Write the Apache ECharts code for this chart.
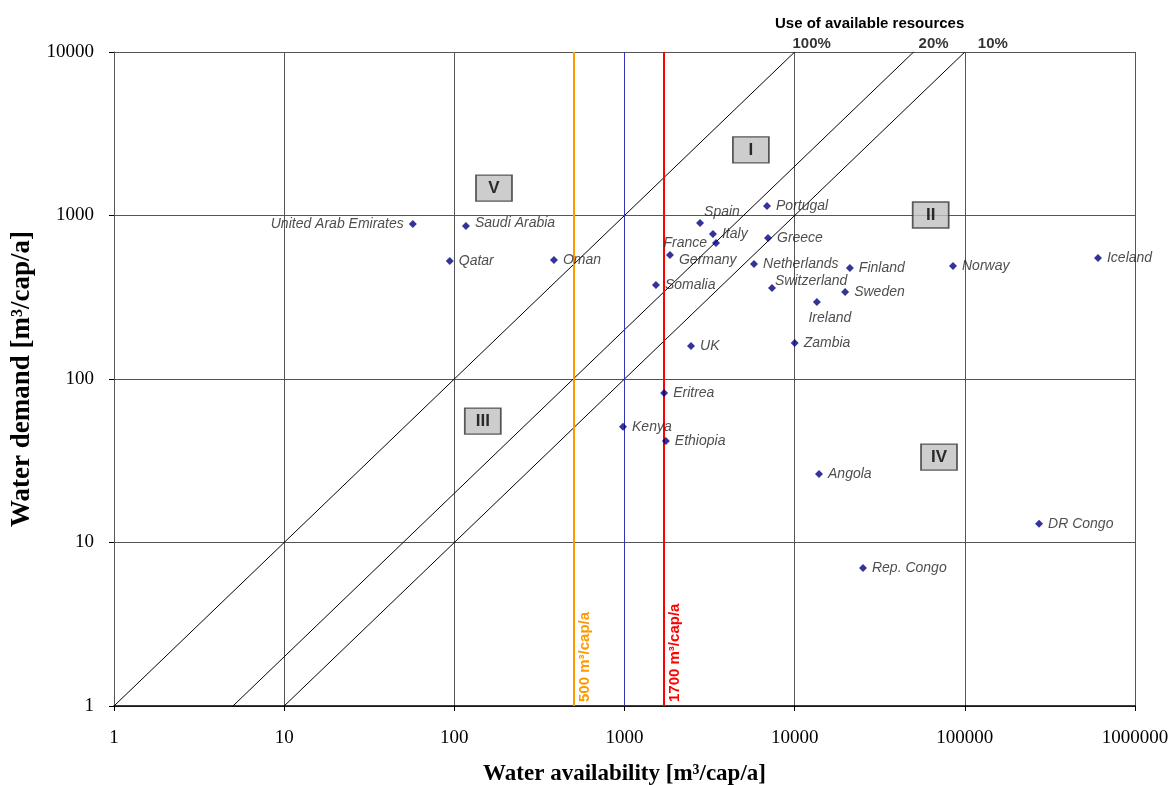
<!DOCTYPE html>
<html>
<head>
<meta charset="utf-8">
<script src="https://cdn.jsdelivr.net/npm/echarts@6/dist/echarts.min.js"></script>
<style>
html, body { margin: 0; padding: 0; background: #fff; }
#chart { width: 1172px; height: 785px; }
</style>
</head>
<body>
<div id="chart"></div>
<script>
// country values
var countries = ['United Arab Emirates', 'Saudi Arabia', 'Qatar', 'Oman', 'Spain', 'Portugal', 'Italy', 'France',
	'Germany', 'Greece', 'Netherlands', 'Switzerland', 'Somalia', 'Finland', 'Sweden', 'Ireland', 'Norway',
	'Iceland', 'UK', 'Zambia', 'Eritrea', 'Kenya', 'Ethiopia', 'Angola', 'DR Congo', 'Rep. Congo'];
var availability = [57, 117, 94, 385, 2780, 6880, 3310, 3450,
	1850, 6970, 5770, 7360, 1530, 21100, 19800, 13500, 85200,
	606000, 2460, 10000, 1710, 980, 1750, 13900, 273000, 25200];
var demand = [887, 863, 527, 534, 900, 1143, 771, 679,
	573, 728, 505, 360, 376, 477, 341, 296, 491,
	550, 159, 166, 82, 51, 41.8, 26.2, 13.0, 6.98];

// use of available resources (demand = share * availability)
var shares = [1, 0.2, 0.1];
var shareLabels = ['100%', '20%', '10%'];

// thresholds on availability
var thresholds = [500, 1000, 1700];
var thresholdLabels = ['500 m³/cap/a', '', '1700 m³/cap/a'];

// zone markers
var zones = ['I', 'II', 'III', 'IV', 'V'];
var zoneX = [5530, 63000, 147, 70500, 171];
var zoneY = [2520, 1007, 55.3, 33.3, 1470];

var xMin = 1, xMax = 1000000, yMin = 1, yMax = 10000;

var labelPlace = {
	'United Arab Emirates': { position: 'left' },
	'France': { position: 'left' },
	'Spain': { offset: [-5, -11] },
	'Switzerland': { offset: [-6, -7] },
	'Germany': { offset: [0, 5] },
	'Saudi Arabia': { offset: [0, -3] },
	'Ireland': { position: 'bottom', offset: [13, 0] }
};
var shareLabelOffsets = [[17, 0], [20, 0], [28, 0]];
var thresholdColors = ['#ff9900', '#3333bb', '#ff0000'];
var thresholdWidths = [2, 1, 2];

var chart = echarts.init(document.getElementById('chart'));

var shareSeries = shares.map(function(s, i) {
	var x0 = Math.max(xMin, yMin / s);
	var x1 = Math.min(xMax, yMax / s);
	return {
		name: shareLabels[i],
		type: 'line',
		data: [[x0, x0 * s], [x1, x1 * s]],
		showSymbol: false,
		symbol: 'none',
		silent: true,
		z: 2,
		lineStyle: { color: '#000', width: 1 }
	};
});

var shareEnds = {
	type: 'scatter',
	symbolSize: 0,
	clip: false,
	silent: true,
	data: shares.map(function(s, i) {
		var x1 = Math.min(xMax, yMax / s);
		return { name: shareLabels[i], value: [x1, x1 * s], label: { offset: shareLabelOffsets[i] } };
	}),
	label: {
		show: true,
		position: 'top',
		distance: 1,
		formatter: '{b}',
		color: '#000',
		fontFamily: 'Liberation Sans',
		fontWeight: 'bold',
		fontSize: 15
	}
};

var thresholdSeries = {
	type: 'line',
	data: [],
	markLine: {
		silent: true,
		symbol: 'none',
		animation: false,
		data: thresholds.map(function(t, i) {
			return {
				xAxis: t,
				lineStyle: { color: thresholdColors[i], width: thresholdWidths[i], type: 'solid' },
				label: {
					show: thresholdLabels[i] !== '',
					formatter: thresholdLabels[i],
					position: 'insideStartBottom',
					distance: 4,
					color: thresholdColors[i],
					fontFamily: 'Liberation Sans',
					fontWeight: 'bold',
					fontSize: 15
				}
			};
		})
	}
};

var countrySeries = {
	name: 'countries',
	type: 'scatter',
	symbol: 'diamond',
	symbolSize: 8,
	z: 5,
	itemStyle: { color: '#000080' },
	data: countries.map(function(c, i) {
		var item = { name: c, value: [availability[i], demand[i]] };
		if (labelPlace[c]) item.label = labelPlace[c];
		return item;
	}),
	label: {
		show: true,
		position: 'right',
		distance: 5,
		formatter: '{b}',
		color: '#222',
		fontFamily: 'Liberation Sans',
		fontStyle: 'italic',
		fontSize: 14
	}
};

var zoneSeries = {
	type: 'scatter',
	symbol: 'rect',
	symbolSize: [36, 26],
	z: 6,
	silent: true,
	itemStyle: { color: '#c0c0c0', borderColor: '#333', borderWidth: 1.5 },
	data: zones.map(function(z, i) {
		return { name: z, value: [zoneX[i], zoneY[i]] };
	}),
	label: {
		show: true,
		position: 'inside',
		formatter: '{b}',
		color: '#000',
		fontFamily: 'Liberation Sans',
		fontWeight: 'bold',
		fontSize: 17
	}
};

function plain(v) {
	return String(Math.round(v));
}

var option = {
	animation: false,
	backgroundColor: '#fff',
	title: {
		text: 'Use of available resources',
		left: 770,
		top: 11,
		textStyle: { fontFamily: 'Liberation Sans', fontWeight: 'bold', fontSize: 15, color: '#000' }
	},
	grid: { left: 114, right: 37, top: 52, bottom: 79, containLabel: false, outerBoundsMode: 'none' },
	xAxis: {
		type: 'log',
		logBase: 10,
		min: xMin,
		max: xMax,
		name: 'Water availability [m³/cap/a]',
		nameLocation: 'middle',
		nameGap: 57,
		nameTextStyle: { fontFamily: 'Liberation Serif', fontWeight: 'bold', fontSize: 23, color: '#000' },
		axisLine: { show: true, lineStyle: { color: '#000', width: 1.5 } },
		axisTick: { show: true, length: 5, lineStyle: { color: '#000' } },
		axisLabel: { margin: 23, fontFamily: 'Liberation Serif', fontSize: 19, color: '#000', formatter: plain },
		splitLine: { show: true, lineStyle: { color: '#555', width: 1 } },
		minorTick: { show: false }
	},
	yAxis: {
		type: 'log',
		logBase: 10,
		min: yMin,
		max: yMax,
		name: 'Water demand [m³/cap/a]',
		nameLocation: 'middle',
		nameGap: 77,
		nameTextStyle: { fontFamily: 'Liberation Serif', fontWeight: 'bold', fontSize: 27, color: '#000' },
		axisLine: { show: true, lineStyle: { color: '#555', width: 1 } },
		axisTick: { show: true, length: 5, lineStyle: { color: '#000' } },
		axisLabel: { margin: 20, fontFamily: 'Liberation Serif', fontSize: 19, color: '#000', formatter: plain },
		splitLine: { show: true, lineStyle: { color: '#555', width: 1 } }
	},
	series: shareSeries.concat([shareEnds, thresholdSeries, countrySeries, zoneSeries])
};

chart.setOption(option);
</script>
</body>
</html>
